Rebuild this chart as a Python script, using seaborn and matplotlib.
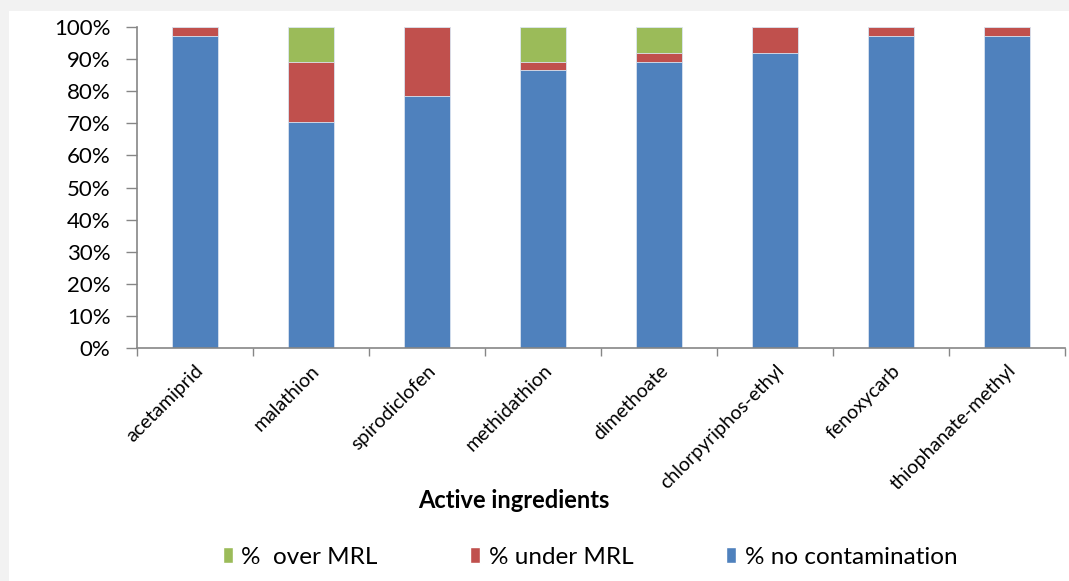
import matplotlib
matplotlib.use("Agg")
import matplotlib.pyplot as plt
import seaborn as sns
import pandas as pd
import numpy as np
from matplotlib.patches import Rectangle, Patch

categories = ["acetamiprid", "malathion", "spirodiclofen", "methidathion",
              "dimethoate", "chlorpyriphos-ethyl", "fenoxycarb", "thiophanate-methyl"]
no_contamination = [97.3, 70.3, 78.4, 86.5, 89.2, 91.9, 97.3, 97.3]
under_mrl = [2.7, 18.9, 21.6, 2.7, 2.7, 8.1, 2.7, 2.7]
over_mrl = [0.0, 10.8, 0.0, 10.8, 8.1, 0.0, 0.0, 0.0]
series_names = ["%  over MRL", "% under MRL", "% no contamination"]
ytick_labels = ["0%", "10%", "20%", "30%", "40%", "50%", "60%", "70%", "80%", "90%", "100%"]

col_blue = "#4F81BD"
col_red = "#C0504D"
col_green = "#9BBB59"

sns.set_theme(style="white")
plt.rcParams["font.family"] = ["Lato", "DejaVu Sans"]

df = pd.DataFrame({
    "cat": categories,
    "no": no_contamination,
    "under": under_mrl,
    "over": over_mrl,
})
df["lvl2"] = df["no"] + df["under"]
df["lvl3"] = df["lvl2"] + df["over"]

fig = plt.figure(figsize=(10.69, 5.81), dpi=100, facecolor="#F2F2F2")
fig.patches.append(Rectangle((9 / 1069, 0.0), 1 - 9 / 1069, 1 - 11 / 581,
                             transform=fig.transFigure, facecolor="white",
                             edgecolor="none", zorder=-10))
ax = fig.add_axes([137 / 1069, 1 - 348 / 581, (1065 - 137) / 1069, (348 - 27) / 581])
ax.set_facecolor("none")

for col, color in [("lvl3", col_green), ("lvl2", col_red), ("no", col_blue)]:
    sns.barplot(data=df, x="cat", y=col, color=color, width=0.4, ax=ax,
                saturation=1, edgecolor="#DCE6F2", linewidth=0.6)

ax.set_xlim(-0.5, len(categories) - 0.5)
ax.set_ylim(0, 100)
ax.set_yticks(np.arange(0, 101, 10))
ax.set_yticklabels(ytick_labels, fontsize=16, color="black")
ax.set_xticks(np.arange(len(categories)))
ax.set_xticklabels(categories, rotation=45, ha="right", rotation_mode="anchor",
                   fontsize=14, color="black")
ax.tick_params(axis="x", which="major", length=0, pad=10)
ax.set_xticks(np.arange(-0.5, len(categories), 1), minor=True)
ax.tick_params(axis="x", which="minor", length=6, width=1, color="#868686",
               direction="out", bottom=True)
ax.tick_params(axis="y", length=8, width=1, color="#868686", direction="out",
               left=True, pad=11)
ax.set_xlabel("Active ingredients", fontsize=17, fontweight="bold", color="black")
ax.xaxis.set_label_coords((514 - 137) / 928, -(489 - 348) / 321)
ax.set_ylabel("")

for s in ["top", "right"]:
    ax.spines[s].set_visible(False)
for s in ["left", "bottom"]:
    ax.spines[s].set_color("#868686")
    ax.spines[s].set_linewidth(1.2)

handles = [Patch(facecolor=col_green), Patch(facecolor=col_red), Patch(facecolor=col_blue)]
leg = fig.legend(handles, series_names, loc="center",
                 bbox_to_anchor=(590 / 1069, 1 - 557 / 581),
                 ncol=3, frameon=False, fontsize=17.5, handlelength=0.42, handleheight=0.62,
                 handletextpad=0.35, columnspacing=3.8)
for t in leg.get_texts():
    t.set_color("black")

fig.savefig("out.png", dpi=100, facecolor=fig.get_facecolor())
